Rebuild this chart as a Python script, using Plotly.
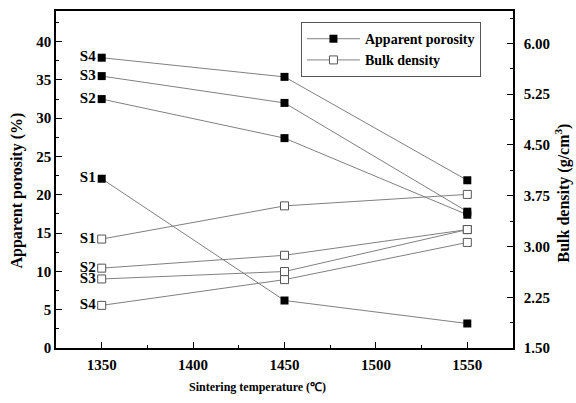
import plotly.graph_objects as go

temps = [1350, 1450, 1550]
samples = ["S1", "S2", "S3", "S4"]
porosity = {
    "S1": [22.1, 6.2, 3.2],
    "S2": [32.5, 27.4, 17.4],
    "S3": [35.5, 32.0, 17.8],
    "S4": [37.9, 35.4, 21.9],
}
density = {
    "S1": [3.11, 3.60, 3.77],
    "S2": [2.68, 2.87, 3.25],
    "S3": [2.52, 2.63, 3.25],
    "S4": [2.13, 2.51, 3.06],
}
density_ticks = [1.5, 2.25, 3.0, 3.75, 4.5, 5.25, 6.0]
density_ticktext = ["1.50", "2.25", "3.00", "3.75", "4.50", "5.25", "6.00"]
temp_ticks = [1350, 1400, 1450, 1500, 1550]

FONT = "Liberation Serif"
LINE_C = "#808080"

fig = go.Figure()
for i, s in enumerate(samples):
    fig.add_trace(go.Scatter(
        x=temps, y=porosity[s], mode="lines+markers+text",
        text=[s, "", ""], textposition="middle left",
        textfont=dict(family=FONT, size=15, color="black", weight="bold"),
        line=dict(color=LINE_C, width=1),
        marker=dict(symbol="square", size=8, color="black", line=dict(width=0)),
        name="Apparent porosity", legendgroup="p", showlegend=(i == 0),
        yaxis="y",
    ))
for i, s in enumerate(samples):
    fig.add_trace(go.Scatter(
        x=temps, y=density[s], mode="lines+markers+text",
        text=[s, "", ""], textposition="middle left",
        textfont=dict(family=FONT, size=15, color="black", weight="bold"),
        line=dict(color=LINE_C, width=1),
        marker=dict(symbol="square", size=8, color="white", line=dict(width=1, color="#555555")),
        name="Bulk density", legendgroup="d", showlegend=(i == 0),
        yaxis="y2",
    ))

tickfont = dict(family=FONT, size=15, color="black", weight="bold")
vtitlefont = dict(family=FONT, size=16, color="black", weight="bold")

fig.update_layout(
    width=576, height=403,
    margin=dict(l=56, r=63, t=11, b=55),
    paper_bgcolor="white", plot_bgcolor="white",
    xaxis=dict(
        range=[1325, 1575], tickvals=temp_ticks, automargin=False,
        ticks="inside", ticklen=6, tickwidth=1, tickcolor="black",
        minor=dict(dtick=25, tick0=1325, ticks="inside", ticklen=3, tickcolor="black", showgrid=False),
        showline=True, linecolor="black", linewidth=1.5, mirror=True,
        showgrid=False, zeroline=False, tickfont=tickfont, ticklabelstandoff=2,
    ),
    yaxis=dict(
        range=[0, 44], dtick=5, tick0=0, automargin=False,
        ticks="inside", ticklen=6, tickwidth=1, tickcolor="black",
        minor=dict(dtick=2.5, ticks="inside", ticklen=3, tickcolor="black", showgrid=False),
        showline=True, linecolor="black", linewidth=1.5,
        showgrid=False, zeroline=False, tickfont=tickfont, ticklabelstandoff=0,
    ),
    yaxis2=dict(
        range=[1.5, 6.48], tickvals=density_ticks, ticktext=density_ticktext,
        overlaying="y", side="right", automargin=False,
        ticks="inside", ticklen=6, tickwidth=1, tickcolor="black",
        minor=dict(tickvals=[1.875, 2.625, 3.375, 4.125, 4.875, 5.625, 6.375],
                   ticks="inside", ticklen=3, tickcolor="black", showgrid=False),
        showline=True, linecolor="black", linewidth=1.5,
        showgrid=False, zeroline=False, tickfont=tickfont, ticklabelstandoff=6,
    ),
    legend=dict(
        x=0.536, y=0.967, xanchor="left", yanchor="top",
        bordercolor="#555555", borderwidth=1, bgcolor="white",
        font=dict(family=FONT, size=14, color="black", weight="bold"),
        tracegroupgap=0, itemwidth=53,
    ),
    showlegend=True,
    annotations=[
        dict(text="Apparent porosity (%)", xref="paper", yref="paper", x=0, y=0.5,
             xshift=-40, yshift=-11, textangle=-90, showarrow=False, font=vtitlefont,
             xanchor="center", yanchor="middle"),
        dict(text="Bulk density (g/cm<sup>3</sup>)", xref="paper", yref="paper", x=1, y=0.5,
             xshift=50, yshift=-14, textangle=-90, showarrow=False, font=vtitlefont,
             xanchor="center", yanchor="middle"),
        dict(text="Sintering temperature (℃)", xref="paper", yref="paper", x=0.44, y=0,
             yshift=-39, showarrow=False, font=dict(family=FONT, size=12, color="black", weight="bold"),
             xanchor="center", yanchor="middle"),
    ],
)

fig.write_html("out.html", post_script="document.body.style.margin='0';",
               config={"displayModeBar": False})
